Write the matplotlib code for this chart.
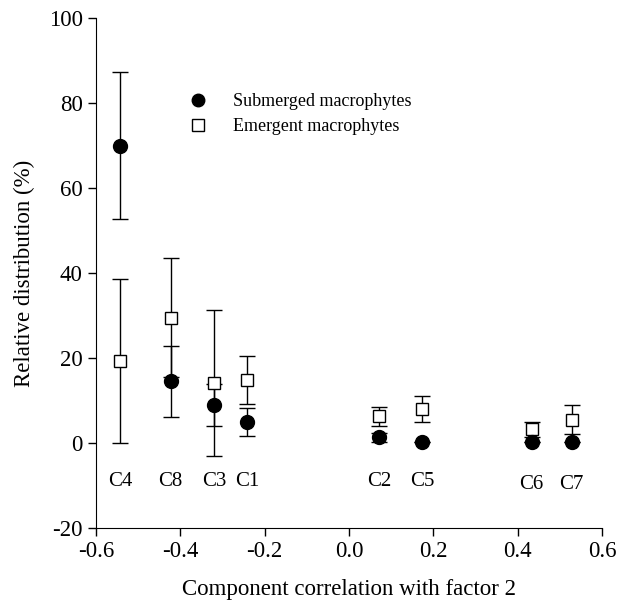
import matplotlib.pyplot as plt
import numpy as np

plt.rcParams['font.family'] = ['Liberation Serif', 'DejaVu Serif']
plt.rcParams['axes.unicode_minus'] = False

labels = ['C4', 'C8', 'C3', 'C1', 'C2', 'C5', 'C6', 'C7']
corr = [-0.543, -0.423, -0.319, -0.242, 0.072, 0.174, 0.433, 0.528]
sub_mean = [70.0, 14.5, 9.0, 4.9, 1.3, 0.2, 0.2, 0.3]
sub_err = [17.2, 8.3, 5.0, 3.3, 1.0, 0.0, 0.0, 0.0]
emg_mean = [19.3, 29.5, 14.2, 14.8, 6.3, 8.0, 3.2, 5.5]
emg_err = [19.2, 14.0, 17.2, 5.6, 2.2, 3.1, 1.8, 3.4]
label_y = [-9, -9, -9, -9, -9, -9, -9.7, -9.7]

fig = plt.figure(figsize=(6.17, 6.06), dpi=100)
ax = fig.add_axes([0.1556, 0.1287, 0.8201, 0.8416])

ax.errorbar(corr, emg_mean, yerr=emg_err, fmt='none', ecolor='black',
            elinewidth=1, capsize=6, capthick=1, zorder=1)
ax.errorbar(corr, sub_mean, yerr=sub_err, fmt='none', ecolor='black',
            elinewidth=1, capsize=6, capthick=1, zorder=1)
ax.plot(corr, sub_mean, 'o', color='black', markersize=10, ls='none',
        label='Submerged macrophytes', zorder=3)
ax.plot(corr, emg_mean, 's', mfc='white', mec='black', mew=1, markersize=9,
        ls='none', label='Emergent macrophytes', zorder=2)

for x, y, t in zip(corr, label_y, labels):
    ax.text(x, y, t, ha='center', va='center', fontsize=15)

ax.set_xlim(-0.6, 0.6)
ax.set_ylim(-20, 100)
ax.set_xticks(np.arange(-0.6, 0.61, 0.2))
ax.set_xticklabels(['-0.6', '-0.4', '-0.2', '0.0', '0.2', '0.4', '0.6'])
ax.set_yticks(np.arange(-20, 101, 20))
ax.tick_params(labelsize=16.5, length=6, width=1, direction='out')
ax.spines['top'].set_visible(False)
ax.spines['right'].set_visible(False)
ax.set_xlabel('Component correlation with factor 2', fontsize=16.5, labelpad=12)
ax.set_ylabel('Relative distribution (%)', fontsize=16.5, labelpad=10)

ax.legend(loc='upper left', bbox_to_anchor=(0.152, 0.885), frameon=False,
          fontsize=13, handlelength=1.0, handletextpad=1.45, labelspacing=0.45,
          markerscale=0.9)

fig.savefig('out.png', dpi=100)
